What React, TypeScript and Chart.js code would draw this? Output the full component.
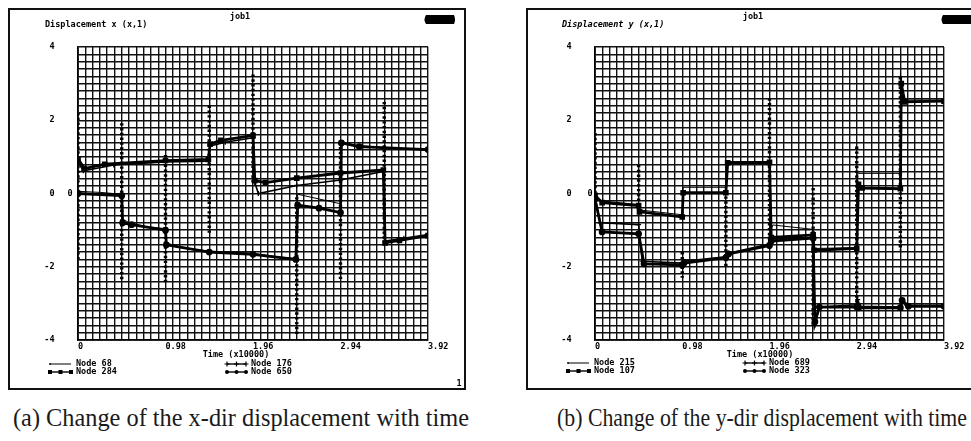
import React, { useEffect, useLayoutEffect, useRef } from 'react';
import { Chart, registerables } from 'chart.js';
Chart.register(...registerables);

type Pt = [number, number];
type Spike = [number, number, number];

// ---------- shared axis data ----------
const TIME_MAX = 3.92;
const TIME_LABELS = ['0', '0.98', '1.96', '2.94', '3.92'];
const DISP_LABELS = ['-4', '-2', '0', '2', '4'];
const X_DIVISIONS = 48; // fine grid columns
const Y_DIVISIONS = 40; // fine grid rows

// ---------- panel (a): x-dir displacement ----------
const node68: Pt[] = [[0,0.06],[0.25,0.03],[0.49,-0.02],[0.5,-0.7],[0.56,-0.78],[0.75,-0.9],[0.98,-0.96],[0.99,-1.35],[1.2,-1.5],[1.47,-1.57],[1.96,-1.63],[2.2,-1.72],[2.44,-1.78],[2.46,-0.02],[2.7,-0.15],[2.94,-0.28],[2.95,1.42],[3.1,1.32],[3.43,1.25],[3.92,1.18]];
const node284: Pt[] = [[0,0.95],[0.07,0.68],[0.3,0.8],[0.98,0.9],[1.46,0.93],[1.48,1.35],[1.6,1.45],[1.96,1.58],[1.98,0.35],[2.1,0.3],[2.45,0.42],[2.94,0.56],[3.42,0.64],[3.44,-1.35],[3.6,-1.28],[3.92,-1.15]];
const node176: Pt[] = [[0,0.85],[0.06,0.62],[0.4,0.78],[0.98,0.86],[1.46,0.88],[1.48,1.3],[1.65,1.4],[1.96,1.52],[1.98,0.3],[2.02,0.0],[2.45,0.22],[2.94,0.37],[3.42,0.6],[3.44,-1.3],[3.65,-1.22],[3.92,-1.12]];
const node650: Pt[] = [[0,0.0],[0.49,-0.06],[0.5,-0.8],[0.6,-0.85],[0.98,-1.0],[0.99,-1.4],[1.47,-1.6],[1.96,-1.66],[2.44,-1.8],[2.46,-0.32],[2.7,-0.4],[2.94,-0.52],[2.95,1.38],[3.15,1.28],[3.92,1.2]];
const spikesX: Spike[] = [[0,2.2,-1.85],[0.49,1.92,-2.35],[0.98,1.05,-2.45],[1.47,2.4,-1.1],[1.96,3.25,0.3],[2.45,-0.1,-3.85],[2.94,1.4,-2.35],[3.43,2.5,-1.35]];

// ---------- panel (b): y-dir displacement ----------
const node215: Pt[] = [[0,-0.02],[0.05,-0.2],[0.49,-0.3],[0.5,-0.45],[0.98,-0.58],[0.99,0.17],[1.47,0.17],[1.49,0.87],[1.96,0.87],[1.97,-1.0],[2.0,-0.86],[2.45,-0.98],[2.46,-1.5],[2.94,-1.48],[2.95,0.55],[3.43,0.55],[3.44,2.7],[3.47,2.55],[3.92,2.55]];
const node107: Pt[] = [[0,-0.05],[0.08,-0.25],[0.49,-0.33],[0.5,-0.5],[0.98,-0.64],[0.99,0.02],[1.47,0.02],[1.49,0.84],[1.96,0.85],[1.98,-1.2],[2.45,-1.13],[2.46,-1.55],[2.94,-1.5],[2.96,0.25],[3.0,0.15],[3.43,0.13],[3.44,3.0],[3.48,2.5],[3.92,2.52]];
const node689: Pt[] = [[0,-0.1],[0.06,-0.8],[0.49,-0.85],[0.53,-1.85],[0.98,-1.9],[1.0,-1.85],[1.47,-1.73],[1.5,-1.63],[1.96,-1.38],[1.98,-1.25],[2.45,-1.2],[2.47,-3.6],[2.52,-3.1],[2.94,-3.04],[2.95,-2.9],[2.98,-3.08],[3.43,-3.1],[3.44,-2.88],[3.5,-3.05],[3.92,-3.05]];
const node323: Pt[] = [[0,-0.15],[0.08,-1.05],[0.49,-1.1],[0.55,-1.92],[0.98,-1.95],[1.0,-1.9],[1.47,-1.75],[1.5,-1.65],[1.96,-1.42],[1.98,-1.3],[2.45,-1.22],[2.47,-3.5],[2.52,-3.1],[2.94,-3.1],[2.96,-3.12],[3.43,-3.12],[3.45,-2.92],[3.52,-3.08],[3.92,-3.08]];
const spikesY: Spike[] = [[0,1.65,-0.1],[0.49,0.78,-0.55],[0.98,-1.6,-2.3],[1.47,0.05,-2.0],[1.96,2.6,-1.5],[2.45,0.15,-3.65],[2.94,1.28,-3.0],[3.43,3.18,-1.55]];

const MONO = '"DejaVu Sans Mono", monospace';

type Style = 'plain' | 'rect' | 'cross' | 'circle';
interface Series { label: string; style: Style; data: Pt[] }
interface LegendItem { label: string; style: Style; x1: number; x2: number; tx: number; y: number }
interface PanelCfg {
  left: number; width: number; height: number;
  area: { l: number; r: number; t: number; b: number };
  series: Series[]; spikes: Spike[];
  title: string; titleX: number; italic: boolean;
  jobX: number; zeroX: number; timeX: number; logoX: number;
  legend: LegendItem[]; pageNo?: { x: number; y: number };
}

const panelA: PanelCfg = {
  left: 0, width: 490, height: 400,
  area: { l: 78, r: 428, t: 47, b: 340 },
  series: [
    { label: 'Node 68', style: 'plain', data: node68 },
    { label: 'Node 284', style: 'rect', data: node284 },
    { label: 'Node 176', style: 'cross', data: node176 },
    { label: 'Node 650', style: 'circle', data: node650 },
  ],
  spikes: spikesX,
  title: 'Displacement x (x,1)', titleX: 45, italic: false,
  jobX: 240, zeroX: 70, timeX: 236, logoX: 423,
  legend: [
    { label: 'Node 68', style: 'plain', x1: 50, x2: 71, tx: 76, y: 364 },
    { label: 'Node 284', style: 'rect', x1: 50, x2: 71, tx: 76, y: 372 },
    { label: 'Node 176', style: 'cross', x1: 227, x2: 246, tx: 251, y: 364 },
    { label: 'Node 650', style: 'circle', x1: 227, x2: 246, tx: 251, y: 372 },
  ],
  pageNo: { x: 459, y: 384 },
};

const panelB: PanelCfg = {
  left: 490, width: 481, height: 400,
  area: { l: 105, r: 454, t: 47, b: 340 },
  series: [
    { label: 'Node 215', style: 'plain', data: node215 },
    { label: 'Node 107', style: 'rect', data: node107 },
    { label: 'Node 689', style: 'cross', data: node689 },
    { label: 'Node 323', style: 'circle', data: node323 },
  ],
  spikes: spikesY,
  title: 'Displacement y (x,1)', titleX: 72, italic: true,
  jobX: 263, zeroX: 100, timeX: 270, logoX: 450,
  legend: [
    { label: 'Node 215', style: 'plain', x1: 78, x2: 99, tx: 104, y: 363 },
    { label: 'Node 107', style: 'rect', x1: 78, x2: 99, tx: 104, y: 371 },
    { label: 'Node 689', style: 'cross', x1: 255, x2: 274, tx: 279, y: 363 },
    { label: 'Node 323', style: 'circle', x1: 255, x2: 274, tx: 279, y: 371 },
  ],
};

function drawMarker(ctx: CanvasRenderingContext2D, style: Style, x: number, y: number) {
  ctx.save();
  ctx.fillStyle = '#000'; ctx.strokeStyle = '#000'; ctx.lineWidth = 1.2;
  if (style === 'rect') ctx.fillRect(x - 2, y - 2, 4, 4);
  else if (style === 'circle') { ctx.beginPath(); ctx.arc(x, y, 2, 0, Math.PI * 2); ctx.fill(); }
  else if (style === 'cross') {
    ctx.beginPath(); ctx.moveTo(x - 2.5, y); ctx.lineTo(x + 2.5, y); ctx.moveTo(x, y - 2.5); ctx.lineTo(x, y + 2.5); ctx.stroke();
  } else { ctx.beginPath(); ctx.arc(x, y, 0.9, 0, Math.PI * 2); ctx.fill(); }
  ctx.restore();
}

function makeDataset(s: Series) {
  const base: any = {
    label: s.label,
    data: s.data.map(([x, y]) => ({ x, y })),
    borderColor: '#000', backgroundColor: '#000',
    tension: 0, fill: false,
    pointBorderColor: '#000', pointBackgroundColor: '#000',
  };
  if (s.style === 'plain') return { ...base, borderWidth: 1, pointRadius: 0 };
  if (s.style === 'rect') return { ...base, borderWidth: 2.8, pointStyle: 'rect', pointRadius: 2 };
  if (s.style === 'cross') return { ...base, borderWidth: 1.6, pointStyle: 'cross', pointRadius: 2.5, pointBorderWidth: 1.2 };
  return { ...base, borderWidth: 2.8, pointStyle: 'circle', pointRadius: 2 };
}

function Panel({ cfg }: { cfg: PanelCfg }) {
  const ref = useRef<HTMLCanvasElement>(null);
  useEffect(() => {
    const canvas = ref.current!;
    const xStep = TIME_MAX / X_DIVISIONS;
    const yStep = 8 / Y_DIVISIONS;
    const xGrid = Array.from({ length: X_DIVISIONS + 1 }, (_, i) => i * xStep);
    const yGrid = Array.from({ length: Y_DIVISIONS + 1 }, (_, i) => -4 + i * yStep);
    const tickFont = { family: MONO, size: 8.5, weight: 'bold' as const };
    const X_AXIS_H = 16, Y_AXIS_W = 40;

    const spikeSet: any = {
      label: 'steps',
      data: cfg.spikes.flatMap(([t, a, b]) => [{ x: t, y: a }, { x: t, y: b }, { x: t, y: null }]),
      borderColor: '#000', borderWidth: 3.4, borderDash: [2.4, 2.4], pointRadius: 0, spanGaps: false,
    };

    const textPlugin = {
      id: 'panelText',
      afterDraw(chart: any) {
        const ctx: CanvasRenderingContext2D = chart.ctx;
        ctx.save();
        ctx.fillStyle = '#000';
        ctx.textBaseline = 'middle';
        const f = `bold 8.5px ${MONO}`;
        ctx.font = f; ctx.textAlign = 'center';
        ctx.fillText('job1', cfg.jobX, 17);
        ctx.font = `${cfg.italic ? 'italic ' : ''}bold 8.5px ${MONO}`; ctx.textAlign = 'left';
        ctx.fillText(cfg.title, cfg.titleX, 25);
        ctx.font = f; ctx.textAlign = 'center';
        const y0 = chart.scales.y.getPixelForValue(0);
        ctx.fillText('0', cfg.zeroX, y0);
        ctx.fillText('Time (x10000)', cfg.timeX, 355);
        // logo blob
        ctx.beginPath();
        const lx = cfg.logoX;
        ctx.moveTo(lx + 3, 15); ctx.lineTo(lx + 31, 15); ctx.quadraticCurveTo(lx + 33, 19.5, lx + 31, 24);
        ctx.lineTo(lx + 3, 24); ctx.quadraticCurveTo(lx, 19.5, lx + 3, 15); ctx.fill();
        // legend
        ctx.textAlign = 'left';
        for (const it of cfg.legend) {
          ctx.strokeStyle = '#000'; ctx.lineWidth = it.style === 'plain' ? 1 : 1.4;
          ctx.beginPath(); ctx.moveTo(it.x1, it.y); ctx.lineTo(it.x2, it.y); ctx.stroke();
          const xm = (it.x1 + it.x2) / 2;
          if (it.style === 'plain') drawMarker(ctx, 'plain', it.x1, it.y);
          else [it.x1, xm, it.x2].forEach((x) => drawMarker(ctx, it.style, x, it.y));
          ctx.fillStyle = '#000';
          ctx.fillText(it.label, it.tx, it.y);
        }
        if (cfg.pageNo) { ctx.textAlign = 'center'; ctx.fillText('1', cfg.pageNo.x, cfg.pageNo.y); }
        ctx.restore();
      },
    };

    const chart = new Chart(canvas, {
      type: 'line',
      data: { datasets: [...cfg.series.map(makeDataset), spikeSet] },
      options: {
        responsive: false, animation: false, events: [],
        layout: {
          padding: {
            left: cfg.area.l - Y_AXIS_W, right: cfg.width - cfg.area.r,
            top: cfg.area.t, bottom: cfg.height - cfg.area.b - X_AXIS_H,
          },
        },
        plugins: { legend: { display: false }, tooltip: { enabled: false }, title: { display: false } },
        scales: {
          x: {
            type: 'linear', min: 0, max: TIME_MAX,
            afterBuildTicks: (s: any) => { s.ticks = xGrid.map((v) => ({ value: v })); },
            afterFit: (s: any) => { s.height = X_AXIS_H; },
            grid: { color: '#111', lineWidth: 1.4, drawTicks: false },
            border: { display: true, color: '#000', width: 1.8 },
            ticks: {
              autoSkip: false, maxRotation: 0, minRotation: 0, padding: 2, align: 'start',
              color: '#000', font: tickFont,
              callback: (_v: any, i: number) => (i % 12 === 0 ? TIME_LABELS[i / 12] : ''),
            },
          },
          y: {
            type: 'linear', min: -4, max: 4,
            afterBuildTicks: (s: any) => { s.ticks = yGrid.map((v) => ({ value: v })); },
            afterFit: (s: any) => { s.width = Y_AXIS_W; },
            grid: { color: '#111', lineWidth: 1.4, drawTicks: false },
            border: { display: true, color: '#000', width: 1.8 },
            ticks: {
              autoSkip: false, padding: 23.5, color: '#000', font: tickFont,
              callback: (_v: any, i: number) => (i % 10 === 0 ? DISP_LABELS[i / 10] : ''),
            },
          },
        },
      } as any,
      plugins: [textPlugin],
    });
    return () => chart.destroy();
  }, [cfg]);
  return (
    <canvas ref={ref} width={cfg.width} height={cfg.height}
      style={{ position: 'absolute', left: cfg.left, top: 0, width: cfg.width, height: cfg.height }} />
  );
}

function Caption({ text, cx, cy, width }: { text: string; cx: number; cy: number; width: number }) {
  const ref = useRef<HTMLSpanElement>(null);
  useLayoutEffect(() => {
    const el = ref.current;
    if (!el) return;
    el.style.transform = 'none';
    const w = el.getBoundingClientRect().width;
    el.style.transform = `scaleX(${width / w})`;
  }, [text, width]);
  return (
    <div style={{ position: 'absolute', left: cx - width / 2, top: cy - 14, width, height: 28, lineHeight: '28px' }}>
      <span ref={ref} style={{
        display: 'inline-block', whiteSpace: 'nowrap', transformOrigin: '0 50%',
        fontFamily: '"Liberation Serif", "DejaVu Serif", serif', fontSize: 25, color: '#1a1a1a',
      }}>{text}</span>
    </div>
  );
}

export default function App() {
  return (
    <div style={{ position: 'fixed', left: 0, top: 0, width: 971, height: 441, background: '#fff', overflow: 'hidden' }}>
      <div style={{ position: 'absolute', left: 8, top: 8, width: 458, height: 382, border: '2px solid #111', boxSizing: 'border-box' }} />
      <div style={{ position: 'absolute', left: 526, top: 8, width: 470, height: 382, border: '2px solid #111', boxSizing: 'border-box' }} />
      <Panel cfg={panelA} />
      <Panel cfg={panelB} />
      <Caption text="(a) Change of the x-dir displacement with time" cx={241} cy={418} width={456} />
      <Caption text="(b) Change of the y-dir displacement with time" cx={762} cy={418} width={410} />
    </div>
  );
}
